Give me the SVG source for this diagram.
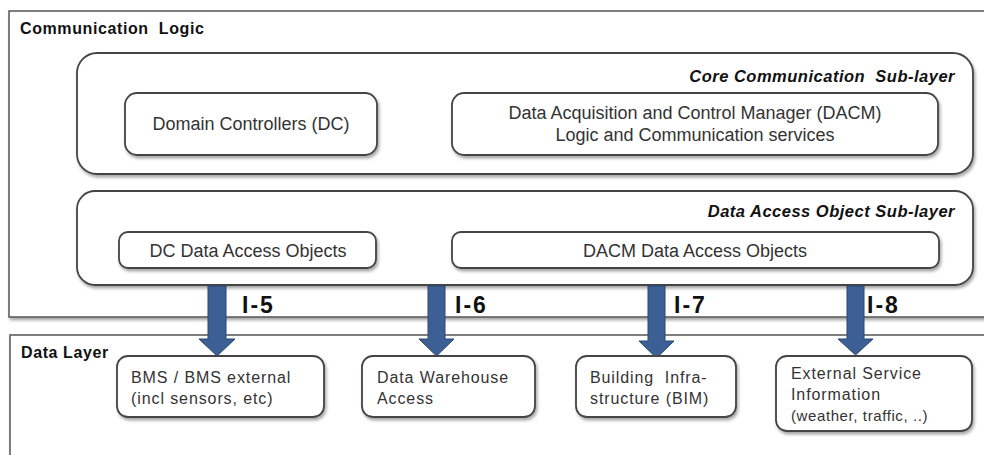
<svg xmlns="http://www.w3.org/2000/svg" width="984" height="455" viewBox="0 0 984 455">
<defs>
<filter id="sh" x="-10%" y="-10%" width="120%" height="130%">
<feDropShadow dx="1.5" dy="2.5" stdDeviation="1.5" flood-color="#000" flood-opacity="0.35"/>
</filter>
<style>
.frame{fill:#fff;stroke:#555;stroke-width:1.5}
.box{fill:#fff;stroke:#444;stroke-width:1.8;filter:url(#sh)}
.title{font-family:"Liberation Sans",Arial,sans-serif;font-size:16px;font-weight:bold;fill:#111;letter-spacing:0.6px;white-space:pre}
.sub{font-family:"Liberation Sans",Arial,sans-serif;font-size:16.5px;font-weight:bold;font-style:italic;fill:#111;text-anchor:end;letter-spacing:0.5px;white-space:pre}
.t{font-family:"Liberation Sans",Arial,sans-serif;font-size:18px;fill:#333}
.d{font-family:"Liberation Sans",Arial,sans-serif;font-size:16px;fill:#333;letter-spacing:0.9px}
.c{text-anchor:middle}
.il{font-family:"Liberation Sans",Arial,sans-serif;font-size:23px;font-weight:bold;fill:#111;letter-spacing:2px}
.arr{fill:#3c6096;stroke:#2a4670;stroke-width:1}
</style>
</defs>
<rect width="984" height="455" fill="#fff"/>
<g id="communication-logic">
<rect class="frame" x="9" y="11" width="990" height="306" filter="url(#sh)"/>
<text class="title" x="20" y="34">Communication  Logic</text>
</g>
<g id="data-layer">
<rect class="frame" x="10" y="335" width="990" height="140" filter="url(#sh)"/>
<text class="title" x="21" y="358">Data Layer</text>
</g>
<g id="core-sublayer">
<rect class="box" x="77" y="53" width="896" height="121" rx="20"/>
<text class="sub" x="955" y="82">Core Communication  Sub-layer</text>
</g>
<g id="dao-sublayer">
<rect class="box" x="77" y="191" width="896" height="94" rx="18"/>
<text class="sub" x="955" y="217">Data Access Object Sub-layer</text>
</g>
<g id="dc">
<rect class="box" x="125" y="93" width="252" height="62" rx="12"/>
<text class="t c" x="251" y="130">Domain Controllers (DC)</text>
</g>
<g id="dacm">
<rect class="box" x="452" y="93" width="486" height="62" rx="12"/>
<text class="t c" x="695" y="119">Data Acquisition and Control Manager (DACM)</text>
<text class="t c" x="695" y="141">Logic and Communication services</text>
</g>
<g id="dc-dao">
<rect class="box" x="119" y="232" width="257" height="36" rx="9"/>
<text class="t c" x="248" y="257">DC Data Access Objects</text>
</g>
<g id="dacm-dao">
<rect class="box" x="452" y="232" width="487" height="36" rx="9"/>
<text class="t c" x="695" y="257">DACM Data Access Objects</text>
</g>
<g id="connectors">
<path class="arr" d="M208,286 H226 V339 H235 L217,356 L199,339 H208 Z"/>
<path class="arr" d="M428,286 H445 V339 H454 L436.5,356 L419,339 H428 Z"/>
<path class="arr" d="M648,286 H665 V341 H674 L656.5,358 L639,341 H648 Z"/>
<path class="arr" d="M847,286 H864 V339 H873 L855.5,355 L838,339 H847 Z"/>
<text class="il" x="242" y="313">I-5</text>
<text class="il" x="455" y="313">I-6</text>
<text class="il" x="674" y="313">I-7</text>
<text class="il" x="867" y="313">I-8</text>
</g>
<g id="bms">
<rect class="box" x="117" y="356" width="207" height="61" rx="11"/>
<text class="d" x="131" y="383">BMS / BMS external</text>
<text class="d" x="131" y="404">(incl sensors, etc)</text>
</g>
<g id="dwh">
<rect class="box" x="362" y="356" width="173" height="61" rx="11"/>
<text class="d" x="377" y="383">Data Warehouse</text>
<text class="d" x="377" y="404">Access</text>
</g>
<g id="bim">
<rect class="box" x="576" y="356" width="160" height="61" rx="11"/>
<text class="d" x="590" y="383" style="white-space:pre">Building  Infra-</text>
<text class="d" x="590" y="404">structure (BIM)</text>
</g>
<g id="ext">
<rect class="box" x="776" y="356" width="196" height="75" rx="11"/>
<text class="d" x="791" y="379">External Service</text>
<text class="d" x="791" y="400">Information</text>
<text class="d" x="791" y="421" style="font-size:15px;letter-spacing:0.6px">(weather, traffic, ..)</text>
</g>
</svg>
